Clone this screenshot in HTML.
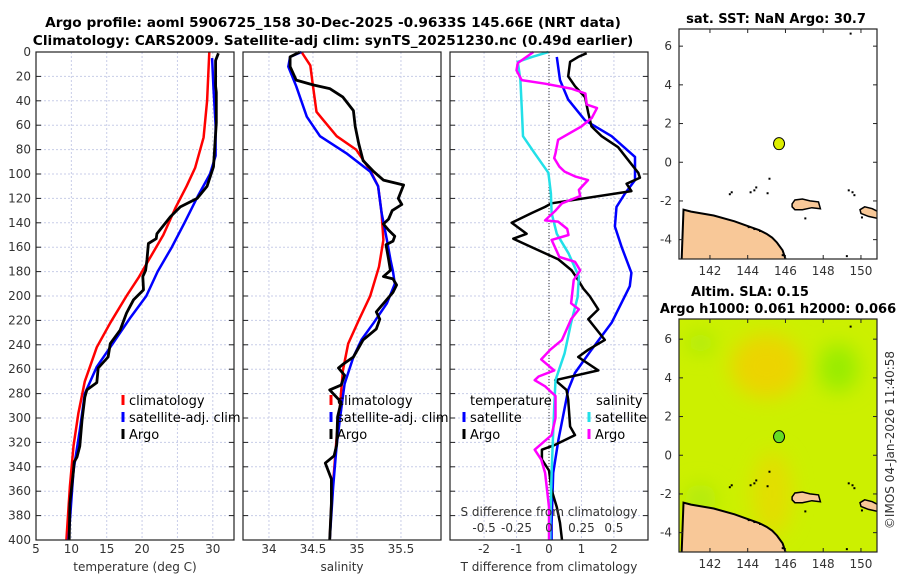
<!DOCTYPE html>
<html><head><meta charset="utf-8"><style>
html,body{margin:0;padding:0;background:#fff;}
svg{display:block;font-family:"DejaVu Sans","Liberation Sans",sans-serif;}
.tk{font-size:12px;fill:#333;}
.ttl{font-size:13.7px;font-weight:bold;fill:#000;}
.mttl{font-size:13px;font-weight:bold;fill:#000;}
.lg{font-size:13px;fill:#000;}
</style></head><body>
<svg id="fig" width="900" height="580" viewBox="0 0 900 580">
<text class="ttl" x="333" y="27" text-anchor="middle">Argo profile: aoml 5906725_158 30-Dec-2025 -0.9633S 145.66E (NRT data)</text>
<text class="ttl" x="333" y="45" text-anchor="middle">Climatology: CARS2009. Satellite-adj clim: synTS_20251230.nc (0.49d earlier)</text>
<g id="layer"></g>
</svg>
<script>
// ---------- data (depth in m, value) ----------
const depthTicks=[0,20,40,60,80,100,120,140,160,180,200,220,240,260,280,300,320,340,360,380,400];
const tempTicks=[5,10,15,20,25,30];
const salTicks=[34,34.5,35,35.5];
const salTickLabels=["34","34.5","35","35.5"];
const tdTicks=[-2,-1,0,1,2];
const sdTicks=[-0.5,-0.25,0,0.25,0.5];
const sdTickLabels=["-0.5","-0.25","0","0.25","0.5"];

const tClimDepth=[0,40,70,95,110,128,150,170,185,200,222,242,270,296,323,356,400];
const tClimVal=[29.5,29.2,28.7,27.5,26.3,24.7,23,21,19.5,17.8,15.5,13.6,11.9,11,10.3,9.8,9.3];
const tSatDepth=[5,30,60,85,100,118,140,160,180,200,218,242,258,280,310,343,400];
const tSatVal=[29.9,30.1,30.4,30.4,29.6,27.9,26,24.2,22.2,20.6,18.3,15.5,13.6,11.9,11.2,10.3,9.6];
const tArgoDepth=[1,7,28,33,58,94,110,120,127,135,149,153,157,170,179,184,195,203,214,228,239,250,259,271,277,283,302,323,332,336,343,370,400];
const tArgoVal=[30.8,30.4,30.4,30.5,30.5,30.1,29.2,27.8,25.4,24,22.1,22,20.9,20.7,20.5,20.1,20.2,18.8,17.8,16.9,15.5,15.2,13.8,13.6,12.2,11.9,11.5,11.2,10.8,10.4,10.3,9.8,9.7];

const sClimDepth=[0,11,28,49,56,69,80,97,110,132,154,176,200,220,239,261,288,315,343,370,400];
const sClimVal=[34.37,34.47,34.5,34.54,34.62,34.77,34.99,35.15,35.24,35.28,35.3,35.25,35.15,35.02,34.9,34.84,34.81,34.77,34.74,34.71,34.69];
const sSatDepth=[0,4,12,28,53,69,83,98,110,132,154,170,180,190,206,222,236,250,272,299,322,356,400];
const sSatVal=[34.37,34.24,34.22,34.31,34.43,34.58,34.88,35.15,35.24,35.28,35.34,35.38,35.41,35.43,35.34,35.19,35.05,34.96,34.86,34.81,34.77,34.73,34.69];
const sArgoDepth=[0,4,12,23,27,30,37,48,61,75,89,98,105,109,120,125,130,137,141,146,151,155,158,170,179,184,186,191,197,213,219,227,236,250,256,259,265,273,277,287,299,322,331,337,350,370,400];
const sArgoVal=[34.35,34.24,34.24,34.31,34.5,34.69,34.84,34.96,34.98,35.02,35.07,35.19,35.3,35.53,35.47,35.51,35.4,35.36,35.3,35.36,35.43,35.41,35.33,35.36,35.38,35.3,35.41,35.45,35.41,35.22,35.26,35.22,35.07,34.96,34.84,34.79,34.86,34.82,34.69,34.82,34.78,34.77,34.74,34.64,34.71,34.71,34.69];

const tdSatDepth=[4,23,39,56,69,86,105,116,127,143,160,181,192,222,244,263,277,318,345,386,400];
const tdSatVal=[0.24,0.34,0.59,1.11,1.93,2.65,2.65,2.34,2.08,2.03,2.24,2.54,2.49,1.93,1.31,0.8,0.59,0.29,0.13,0.08,0.08];
const sdSatDepth=[0,4,8,23,45,69,83,99,116,132,149,165,184,201,222,247,269,291,318,345,386,400];
const sdSatVal=[-0.005,-0.13,-0.24,-0.22,-0.21,-0.2,-0.11,-0.005,0.015,0.02,0.06,0.15,0.23,0.22,0.17,0.12,0.05,0.04,0.03,0.02,0.01,0.01];
const tdArgoDepth=[1,4,8,20,28,37,50,61,69,78,94,99,103,108,114,124,127,132,140,149,153,160,170,179,187,194,200,211,219,236,244,250,261,269,277,285,307,314,322,326,334,343,359,373,386,400];
const tdArgoVal=[1.16,0.9,0.65,0.59,0.8,1.11,1.21,1.31,1.62,2.13,2.6,2.75,2.8,2.39,2.54,0.08,-0.12,-0.53,-1.15,-0.69,-1.1,-0.53,0.29,0.7,0.9,1.06,1.25,1.52,1.21,1.72,1.21,0.9,1.52,0.19,0.54,0.59,0.65,0.8,0.19,-0.22,-0.22,0,0.08,0.24,0.34,0.4];
const sdArgoDepth=[0,9,15,23,26,30,34,43,46,54,61,72,83,87,94,98,102,105,113,118,124,130,138,139,145,150,154,168,172,179,187,206,211,219,236,244,252,261,266,269,274,282,300,314,326,334,345,373,386,400];
const sdArgoVal=[-0.12,-0.24,-0.25,-0.21,-0.03,0.17,0.28,0.29,0.37,0.33,0.25,0.07,0.05,0.04,0.08,0.12,0.2,0.3,0.23,0.24,0.1,0.05,-0.03,0.07,0.14,0.15,0.02,0.08,0.2,0.24,0.19,0.17,0.23,0.17,0.1,0.01,-0.06,0.04,-0.08,-0.11,-0.03,0.05,0.05,0.02,-0.11,-0.06,-0.03,0,0,0];

// map data
const lonTicks=[142,144,146,148,150];
const latTicks=[-4,-2,0,2,4,6];
const floatLon=145.66, floatLat=0.96;
const coastLon=[140.5,140.6,141.0,142.2,143.3,144.0,144.6,145.0,145.3,145.55,145.85,146.0,146.05];
const coastLat=[-5.1,-2.45,-2.55,-2.75,-3.05,-3.3,-3.5,-3.7,-3.9,-4.15,-4.55,-5.0,-5.1];
const isl1Lon=[146.35,146.5,146.9,147.3,147.75,147.85,147.4,146.9,146.5,146.35];
const isl1Lat=[-2.15,-1.95,-1.9,-2.0,-2.05,-2.4,-2.35,-2.45,-2.45,-2.3];
const isl2Lon=[149.95,150.2,150.6,150.9,150.9,150.4,150.0];
const isl2Lat=[-2.45,-2.3,-2.4,-2.55,-2.9,-2.8,-2.65];
const dotLon=[143.0,143.1,144.1,144.3,144.4,145.0,145.1,144.0,144.3,144.6,149.3,149.5,149.6,150.0,147.0,149.2,145.8,149.4];
const dotLat=[-1.6,-1.5,-1.5,-1.4,-1.25,-1.55,-0.8,-3.3,-3.4,-3.5,-1.4,-1.5,-1.65,-2.8,-2.85,-4.8,-4.75,6.7];

// ---------- helpers ----------
const NS="http://www.w3.org/2000/svg";
const layer=document.getElementById('layer');
function mk(tag,attrs,parent){const e=document.createElementNS(NS,tag);for(const k in attrs)e.setAttribute(k,attrs[k]);(parent||layer).appendChild(e);return e;}
const TOP=52,BOT=540;
function yD(d){return TOP+(BOT-TOP)*d/400;}
const P1={x0:36,x1:234,v0:5,v1:33.0};
const P2={x0:243,x1:441,v0:33.705,v1:35.955};
const P3={x0:450,x1:648,v0:-3.05,v1:3.05};
function sx(p,v){return p.x0+(v-p.v0)*(p.x1-p.x0)/(p.v1-p.v0);}
function sdx(v){return sx(P3,v*4);}

function grid(p,vals,name){
  vals.forEach(v=>{const l=mk('line',{x1:sx(p,v),x2:sx(p,v),y1:TOP,y2:BOT,stroke:'#c8cde8','stroke-width':1,'stroke-dasharray':'2,2'});
  
  });
  depthTicks.forEach(d=>{const l=mk('line',{x1:p.x0,x2:p.x1,y1:yD(d),y2:yD(d),stroke:'#c8cde8','stroke-width':1,'stroke-dasharray':'2,2'});
  
  });
}
function frame(p,name){
  const r=mk('rect',{x:p.x0,y:TOP,width:p.x1-p.x0,height:BOT-TOP,fill:'none',stroke:'#222','stroke-width':1.2});
  
  
  depthTicks.forEach(d=>{mk('line',{x1:p.x0,x2:p.x0+5,y1:yD(d),y2:yD(d),stroke:'#222'});mk('line',{x1:p.x1-5,x2:p.x1,y1:yD(d),y2:yD(d),stroke:'#222'});});
}
function series(depths,vals,xf,color,w,name){
  let d='';for(let i=0;i<depths.length;i++){d+=(i?'L':'M')+xf(vals[i]).toFixed(1)+','+yD(depths[i]).toFixed(1);}
  const e=mk('path',{d:d,fill:'none',stroke:color,'stroke-width':w,'stroke-linejoin':'round'});
  
  
}
function txt(x,y,s,cls,anchor,name){const t=mk('text',{x:x,y:y,class:cls,'text-anchor':anchor||'start'});t.textContent=s;
  
  return t;}
function legItem(x,y,color,label,name){
  const m=mk('line',{x1:x,x2:x,y1:y-10,y2:y,stroke:color,'stroke-width':3});
  
  
  txt(x+6,y,label,'lg','start',name);
}

// ---------- panel 1 ----------
grid(P1,tempTicks,'temp');
series(tClimDepth,tClimVal,v=>sx(P1,v),'#ff0000',2.5,'temp-climatology-line');
series(tSatDepth,tSatVal,v=>sx(P1,v),'#0000ff',2.5,'temp-satellite-line');
series(tArgoDepth,tArgoVal,v=>sx(P1,v),'#000',2.8,'temp-argo-line');
frame(P1,'temp-panel');
depthTicks.forEach(d=>txt(31,yD(d)+4,String(d),'tk','end','depth-tick-label'));
tempTicks.forEach(v=>txt(sx(P1,v),553,String(v),'tk','middle','temp-tick-label'));
txt(135,571,'temperature (deg C)','tk','middle','temp-axis-title');
legItem(123,405,'#ff0000','climatology','legend-temp-climatology');
legItem(123,422,'#0000ff','satellite-adj. clim','legend-temp-satellite');
legItem(123,439,'#000','Argo','legend-temp-argo');

// ---------- panel 2 ----------
grid(P2,salTicks,'sal');
series(sClimDepth,sClimVal,v=>sx(P2,v),'#ff0000',2.5,'sal-climatology-line');
series(sSatDepth,sSatVal,v=>sx(P2,v),'#0000ff',2.5,'sal-satellite-line');
series(sArgoDepth,sArgoVal,v=>sx(P2,v),'#000',2.8,'sal-argo-line');
frame(P2,'sal-panel');
salTicks.forEach((v,i)=>txt(sx(P2,v),553,salTickLabels[i],'tk','middle','sal-tick-label'));
txt(342,571,'salinity','tk','middle','sal-axis-title');
legItem(331,405,'#ff0000','climatology','legend-sal-climatology');
legItem(331,422,'#0000ff','satellite-adj. clim','legend-sal-satellite');
legItem(331,439,'#000','Argo','legend-sal-argo');

// ---------- panel 3 ----------
grid(P3,tdTicks,'diff');
const zl=mk('line',{x1:sx(P3,0),x2:sx(P3,0),y1:TOP,y2:BOT,stroke:'#333','stroke-dasharray':'1,2'});


series(tdSatDepth,tdSatVal,v=>sx(P3,v),'#0000ff',2.5,'tdiff-satellite-line');
series(tdArgoDepth,tdArgoVal,v=>sx(P3,v),'#000',2.5,'tdiff-argo-line');
series(sdSatDepth,sdSatVal,sdx,'#22e0e8',2.5,'sdiff-satellite-line');
series(sdArgoDepth,sdArgoVal,sdx,'#ff00ff',2.5,'sdiff-argo-line');
frame(P3,'diff-panel');
tdTicks.forEach(v=>txt(sx(P3,v),553,String(v),'tk','middle','tdiff-tick-label'));
txt(549,571,'T difference from climatology','tk','middle','tdiff-axis-title');
txt(549,516,'S difference from climatology','tk','middle','sdiff-axis-title');
sdTicks.forEach((v,i)=>txt(sdx(v),532,sdTickLabels[i],'tk','middle','sdiff-tick-label'));
txt(470,405,'temperature','lg','start','legend-temperature-header');
legItem(464,422,'#0000ff','satellite','legend-tdiff-satellite');
legItem(464,439,'#000','Argo','legend-tdiff-argo');
txt(596,405,'salinity','lg','start','legend-salinity-header');
legItem(589,422,'#22e0e8','satellite','legend-sdiff-satellite');
legItem(589,439,'#ff00ff','Argo','legend-sdiff-argo');

// ---------- maps ----------
const MX0=679,MX1=877;
function mlon(l){return MX0+(l-140.36)*(MX1-MX0)/(150.85-140.36);}
function mapDef(top,bot){return {top:top,bot:bot,lat0:-5.0,lat1:-5.0+(bot-top)/19.35};}
function mlat(m,l){return m.bot-(l-m.lat0)*19.35;}
const M1=mapDef(29,259), M2=mapDef(319,552);
const defs=mk('defs',{});
defs.innerHTML='<clipPath id="c1"><rect x="679" y="29" width="198" height="230"/></clipPath><clipPath id="c2"><rect x="679" y="319" width="198" height="233"/></clipPath><filter id="bl"><feGaussianBlur stdDeviation="10"/></filter>';

function drawMap(m,clip,name,bg){
  const g=mk('g',{'clip-path':'url(#'+clip+')'});
  
  
  mk('rect',{x:MX0,y:m.top,width:MX1-MX0,height:m.bot-m.top,fill:bg?'#ccf000':'#fff'},g);
  if(bg){
    const h=mk('g',{filter:'url(#bl)'},g);
    mk('ellipse',{cx:mlon(145),cy:mlat(m,4.6),rx:36,ry:32,fill:'#f0d200','fill-opacity':0.9},h);
    mk('ellipse',{cx:mlon(145.3),cy:mlat(m,-2),rx:20,ry:42,fill:'#e8da00','fill-opacity':0.8},h);
    mk('ellipse',{cx:mlon(148.8),cy:mlat(m,4.5),rx:20,ry:24,fill:'#98ec00'},h);
    mk('ellipse',{cx:mlon(141.5),cy:mlat(m,5.8),rx:14,ry:10,fill:'#a8ea10'},h);
    mk('ellipse',{cx:mlon(141.5),cy:mlat(m,-2.3),rx:16,ry:16,fill:'#b0ea10'},h);
  }
  let d='';coastLon.forEach((l,i)=>{d+=(i?'L':'M')+mlon(l).toFixed(1)+','+mlat(m,coastLat[i]).toFixed(1);});
  const c=mk('path',{d:d+'Z',fill:'#f8c898',stroke:'#000','stroke-width':2},g);
  
  
  [[isl1Lon,isl1Lat],[isl2Lon,isl2Lat]].forEach(a=>{let p='';a[0].forEach((l,i)=>{p+=(i?'L':'M')+mlon(l).toFixed(1)+','+mlat(m,a[1][i]).toFixed(1);});
    const s=mk('path',{d:p+'Z',fill:'#f8c898',stroke:'#000','stroke-width':1.5},g);
    
    });
  dotLon.forEach((l,i)=>mk('rect',{x:mlon(l),y:mlat(m,dotLat[i]),width:2,height:2,fill:'#000'},g));
  const f=mk('ellipse',{cx:mlon(floatLon),cy:mlat(m,floatLat),rx:5.5,ry:6,fill:bg?'#66dd22':'#ddee00',stroke:'#000','stroke-width':1});
  
  
  const fr=mk('rect',{x:MX0,y:m.top,width:MX1-MX0,height:m.bot-m.top,fill:'none',stroke:'#222','stroke-width':1.2});
  
  
  lonTicks.forEach(l=>{mk('line',{x1:mlon(l),x2:mlon(l),y1:m.bot,y2:m.bot-4,stroke:'#222'});mk('line',{x1:mlon(l),x2:mlon(l),y1:m.top,y2:m.top+4,stroke:'#222'});
    txt(mlon(l),m.bot+16,String(l),'tk','middle',name+'-lon-label');});
  latTicks.forEach(l=>{mk('line',{x1:MX0,x2:MX0+4,y1:mlat(m,l),y2:mlat(m,l),stroke:'#222'});mk('line',{x1:MX1-4,x2:MX1,y1:mlat(m,l),y2:mlat(m,l),stroke:'#222'});
    txt(672,mlat(m,l)+4,String(l),'tk','end',name+'-lat-label');});
}
drawMap(M1,'c1','sst-map',false);
drawMap(M2,'c2','sla-map',true);
txt(776,23,'sat. SST: NaN Argo: 30.7','mttl','middle','sst-map-title');
txt(750,296,'Altim. SLA: 0.15','mttl','middle','sla-map-title-line1');
txt(778,313,'Argo h1000: 0.061 h2000: 0.066','mttl','middle','sla-map-title-line2');
const vt=txt(0,0,'©IMOS 04-Jan-2026 11:40:58','tk','middle','imos-timestamp');
vt.setAttribute('transform','translate(894,440) rotate(-90)');
</script>
</body></html>
